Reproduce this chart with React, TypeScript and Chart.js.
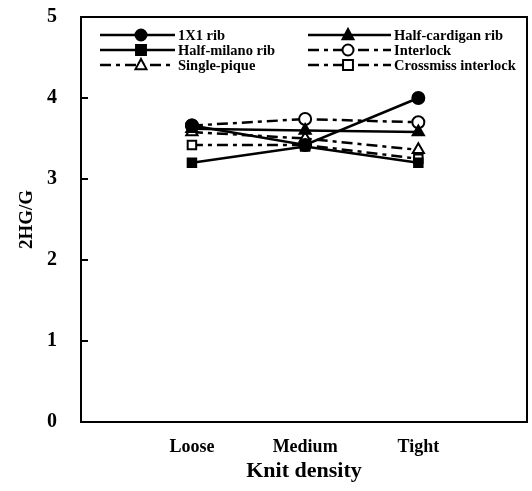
import React, { useEffect, useRef } from "react";
import { Chart, registerables } from "chart.js";

Chart.register(...registerables);

const categories = ["Loose", "Medium", "Tight"];
const xPositions = [1, 2, 3];
const yTicks = [0, 1, 2, 3, 4, 5];

const rib1x1 = [3.66, 3.42, 4.0];
const halfCardigan = [3.62, 3.6, 3.58];
const halfMilano = [3.2, 3.4, 3.2];
const interlock = [3.66, 3.74, 3.7];
const singlePique = [3.58, 3.5, 3.36];
const crossmiss = [3.42, 3.42, 3.25];

const seriesNames = [
  "1X1 rib",
  "Half-cardigan rib",
  "Half-milano rib",
  "Interlock",
  "Single-pique",
  "Crossmiss interlock",
];

const FONT = "'Liberation Serif', 'Times New Roman', serif";
const DASH = [11, 5, 4, 5];

type Spec = { style: string; open: boolean; dashed: boolean };
const specs: Spec[] = [
  { style: "circle", open: false, dashed: false },
  { style: "triangle", open: false, dashed: false },
  { style: "rect", open: false, dashed: false },
  { style: "circle", open: true, dashed: true },
  { style: "triangle", open: true, dashed: true },
  { style: "rect", open: true, dashed: true },
];
const seriesValues = [rib1x1, halfCardigan, halfMilano, interlock, singlePique, crossmiss];

function drawMarker(ctx: CanvasRenderingContext2D, s: Spec, x: number, y: number, r: number) {
  ctx.save();
  ctx.setLineDash([]);
  ctx.lineWidth = 2;
  ctx.strokeStyle = "#000";
  ctx.fillStyle = s.open ? "#fff" : "#000";
  ctx.beginPath();
  if (s.style === "circle") {
    ctx.arc(x, y, r, 0, Math.PI * 2);
  } else if (s.style === "rect") {
    const h = r * 0.9;
    ctx.rect(x - h, y - h, h * 2, h * 2);
  } else {
    ctx.moveTo(x, y - r * 1.1);
    ctx.lineTo(x + r, y + r * 0.75);
    ctx.lineTo(x - r, y + r * 0.75);
    ctx.closePath();
  }
  ctx.fill();
  ctx.stroke();
  ctx.restore();
}

const framePlugin = {
  id: "frame",
  afterDraw(chart: any) {
    const { ctx, chartArea } = chart;
    const { left, right, top, bottom } = chartArea;
    const yScale = chart.scales.y;
    ctx.save();
    ctx.strokeStyle = "#000";
    ctx.lineWidth = 2;
    ctx.setLineDash([]);
    ctx.strokeRect(left, top, right - left, bottom - top);
    for (const v of [1, 2, 3, 4]) {
      const py = yScale.getPixelForValue(v);
      ctx.beginPath();
      ctx.moveTo(left, py);
      ctx.lineTo(left + 7, py);
      ctx.stroke();
    }
    const cols = [
      { x0: 100, x1: 175, mx: 141, tx: 178 },
      { x0: 308, x1: 391, mx: 348, tx: 394 },
    ];
    const rows = [35, 50, 65];
    ctx.font = `bold 14.5px ${FONT}`;
    ctx.textBaseline = "middle";
    ctx.textAlign = "left";
    ctx.fillStyle = "#000";
    for (let i = 0; i < seriesNames.length; i++) {
      const c = cols[i % 2];
      const y = rows[Math.floor(i / 2)];
      const s = specs[i];
      ctx.save();
      ctx.lineWidth = 2.5;
      ctx.setLineDash(s.dashed ? DASH : []);
      ctx.beginPath();
      ctx.moveTo(c.x0, y);
      ctx.lineTo(c.x1, y);
      ctx.stroke();
      ctx.restore();
      drawMarker(ctx, s, c.mx, y, 5.5);
      ctx.fillText(seriesNames[i], c.tx, y + 1);
    }
    ctx.restore();
  },
};

export default function App() {
  const ref = useRef<HTMLCanvasElement>(null);
  useEffect(() => {
    if (!ref.current) return;
    const datasets = seriesNames.map((name, i) => {
      const s = specs[i];
      return {
        label: name,
        data: xPositions.map((x, k) => ({ x, y: seriesValues[i][k] })),
        borderColor: "#000",
        backgroundColor: s.open ? "#fff" : "#000",
        pointBorderColor: "#000",
        pointBackgroundColor: s.open ? "#fff" : "#000",
        pointStyle: s.style,
        pointRadius: s.style === "triangle" ? 6.5 : 6,
        pointBorderWidth: 2,
        borderWidth: 2.5,
        borderDash: s.dashed ? DASH : [],
        tension: 0,
        fill: false,
      };
    });
    const chart = new Chart(ref.current, {
      type: "line",
      data: { datasets },
      plugins: [framePlugin],
      options: {
        animation: false,
        responsive: false,
        layout: { autoPadding: false, padding: { top: 17, right: 5, left: 0, bottom: 0 } },
        plugins: { legend: { display: false }, tooltip: { enabled: false } },
        scales: {
          x: {
            type: "linear",
            min: 0.02,
            max: 3.96,
            grid: { display: false, drawTicks: false },
            border: { display: false },
            afterBuildTicks: (scale: any) => {
              scale.ticks = xPositions.map((v) => ({ value: v }));
            },
            afterFit: (scale: any) => {
              scale.height = 69;
              scale.paddingLeft = 0;
              scale.paddingRight = 0;
            },
            ticks: {
              autoSkip: false,
              maxRotation: 0,
              padding: 15,
              color: "#000",
              font: { family: FONT, size: 18, weight: "bold" },
              callback: (v: any) => categories[xPositions.indexOf(Number(v))] ?? "",
            },
            title: {
              display: true,
              text: "Knit density",
              color: "#000",
              font: { family: FONT, size: 22, weight: "bold" },
              padding: { top: 0, bottom: 6 },
            },
          },
          y: {
            min: 0,
            max: 5,
            grid: { display: false, drawTicks: false },
            border: { display: false },
            afterBuildTicks: (scale: any) => {
              scale.ticks = yTicks.map((v) => ({ value: v }));
            },
            afterFit: (scale: any) => {
              scale.width = 81;
              scale.paddingTop = 0;
              scale.paddingBottom = 0;
            },
            ticks: {
              padding: 24,
              color: "#000",
              font: { family: FONT, size: 20, weight: "bold" },
            },
            title: {
              display: true,
              text: "2HG/G",
              color: "#000",
              font: { family: FONT, size: 19, weight: "bold" },
              padding: { top: 16, bottom: 0 },
            },
          },
        },
      } as any,
    });
    return () => chart.destroy();
  }, []);
  return (
    <div style={{ position: "absolute", left: 0, top: 0, width: 532, height: 491, background: "#fff" }}>
      <canvas ref={ref} width={532} height={491} style={{ display: "block" }} />
    </div>
  );
}
